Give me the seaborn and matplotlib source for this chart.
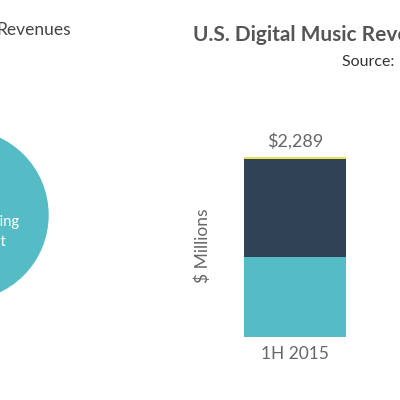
import matplotlib
matplotlib.use("Agg")
import matplotlib.pyplot as plt
import seaborn as sns
import pandas as pd

periods = ["1H 2015"]
streaming = [1017]
downloads = [1245]
other = [27]
total_label = ["$2,289"]
pie_values = [1]

sns.set_style("white")
plt.rcParams['font.family'] = ['Lato', 'DejaVu Sans']

teal = "#55bcc5"
navy = "#2f4354"
yellow = "#e6e35a"

fig = plt.figure(figsize=(4, 4), dpi=100)

# pie (cut off)
axp = fig.add_axes([-0.3625, 0.1925, 0.54, 0.54])
axp.pie(pie_values, colors=[teal], startangle=90)
axp.set_aspect("equal")
axp.axis("off")
fig.text(0.05, 0.445, "Streaming", color="white", fontsize=10.5, ha="right", va="center")
fig.text(0.015, 0.395, "Content", color="white", fontsize=10.5, ha="right", va="center")
fig.text(0.178, 0.925, "Revenues", color="#444444", fontsize=12.5, ha="right", va="center")

# stacked bar
ax = fig.add_axes([0.61, 0.1575, 0.255, 0.45])
df = pd.DataFrame({"period": periods, "s": streaming, "d": downloads, "o": other})
sns.barplot(data=df, x="period", y="s", color=teal, width=1, ax=ax, saturation=1, linewidth=0)
sns.barplot(data=df, x="period", y="d", bottom=df["s"], color=navy, width=1, ax=ax, saturation=1, linewidth=0)
sns.barplot(data=df, x="period", y="o", bottom=df["s"] + df["d"], color=yellow, width=1, ax=ax, saturation=1, linewidth=0)
ax.set_xlim(-0.5, 0.5)
ax.set_ylim(0, sum(streaming + downloads + other))
for s in ax.spines.values():
    s.set_visible(False)
ax.set_yticks([])
ax.set_xticks([])
ax.set_xlabel("")
ax.set_ylabel("")
ax.text(0, 2289 * 1.04, total_label[0], ha="center", va="bottom", fontsize=13, color="#666666", clip_on=False)
fig.text(0.7375, 0.115, periods[0], ha="center", va="center", fontsize=12.5, color="#666666")
fig.text(0.508, 0.385, "$ Millions", rotation=90, ha="center", va="center", fontsize=12.5, color="#666666")

fig.text(0.483, 0.912, "U.S. Digital Music Revenues", ha="left", va="center", fontsize=15, fontweight="bold", color="#555555")
fig.text(0.855, 0.845, "Source: RIAA", ha="left", va="center", fontsize=11.5, color="#333333")

fig.savefig("out.png", dpi=100)
